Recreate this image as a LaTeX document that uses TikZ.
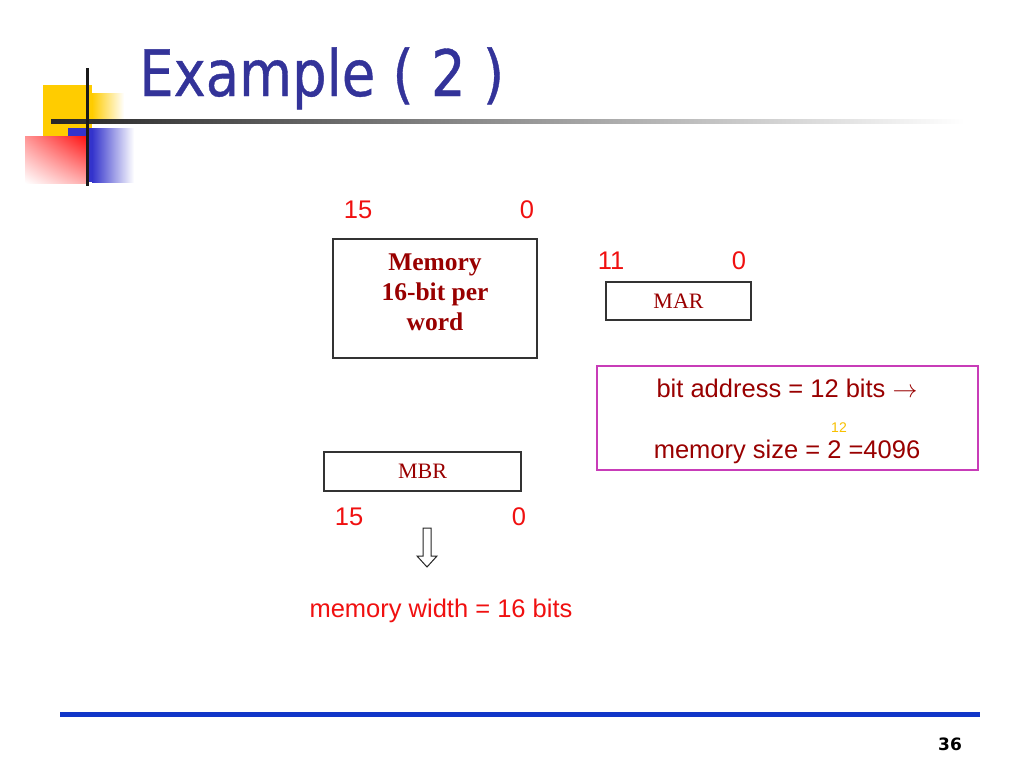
\documentclass[tikz,border=0pt]{standalone}
\usepackage{fontspec}
\usetikzlibrary{shadings}
\setmainfont{Liberation Serif}
\newfontfamily\arialf{Liberation Sans}
\newfontfamily\tnrf{Liberation Serif}
\newfontfamily\titlef[FakeStretch=0.85,FakeBold=0.6]{DejaVu Sans}
\newfontfamily\pagef{DejaVu Sans}
\definecolor{titleblue}{HTML}{333399}
\definecolor{numred}{HTML}{F01010}
\definecolor{dred}{HTML}{990000}
\definecolor{pinkb}{HTML}{C83CB8}
\definecolor{supyellow}{HTML}{F8C000}
\definecolor{lineblue}{HTML}{1136C8}
\definecolor{logoyellow}{HTML}{FFCC00}
\definecolor{logoblue}{HTML}{3333CC}
\definecolor{logored}{HTML}{FF1010}
\begin{document}
\begin{tikzpicture}[x=1pt,y=-1pt,
  num/.style={font=\arialf\fontsize{25.5}{30}\selectfont, text=numred, inner sep=0pt, anchor=base},
  dtext/.style={font=\arialf\fontsize{25.5}{30}\selectfont, text=dred, inner sep=0pt, anchor=base},
  regbox/.style={draw=black!80, line width=1.2pt, inner sep=0pt, font=\tnrf\fontsize{22}{26}\selectfont, text=dred}]
\useasboundingbox[fill=white] (0,0) rectangle (1024,768);
% logo
\fill[logoyellow] (43,85) rectangle (92,137);
\shade[left color=logoyellow, right color=white] (92,93) rectangle (124,121);
\fill[logoblue] (68,128) rectangle (92,182);
\shade[left color=logoblue, right color=white] (92,128) rectangle (134,182);
\shade[upper right=logored, upper left=logored!45, lower right=logored!35, lower left=white] (25,136) rectangle (87,183);
\shade[left color=black!85, right color=white] (51,119) rectangle (965,123);
\fill[black!90] (85.5,68) rectangle (88.5,186);
% title
\node[font=\titlef\fontsize{64}{76}\selectfont, text=titleblue, anchor=base west, inner sep=0pt] (title) at (139,96) {Example ( 2 )};
% memory
\node[num] (m15) at (358,218) {15};
\node[num] (m0) at (527,218) {0};
\node[regbox, minimum width=204pt, minimum height=119pt] (mem) at (435,298.5) {};
\node[font=\tnrf\bfseries\fontsize{25.5}{30}\selectfont, text=dred, align=center, inner sep=0pt] (memtxt) at (435,292) {Memory\\16-bit per\\word};
% MAR
\node[num] (a11) at (611,269) {11};
\node[num] (a0) at (739,269) {0};
\node[regbox, minimum width=145pt, minimum height=38pt] (mar) at (678.5,301) {MAR};
% address box
\node[draw=pinkb, line width=1.2pt, minimum width=381pt, minimum height=104pt, inner sep=0pt] (addr) at (787.5,418) {};
\node[dtext] (bitaddr) at (787,397) {bit address = 12 bits $\rightarrow$};
\node[font=\arialf\fontsize{14}{16}\selectfont, text=supyellow, inner sep=0pt, anchor=base] (exp) at (839,432) {12};
\node[dtext] (memsize) at (787,458) {memory size = 2 =4096};
% MBR
\node[regbox, minimum width=197pt, minimum height=39pt] (mbr) at (422.5,471.5) {MBR};
\node[num] (b15) at (349,525) {15};
\node[num] (b0) at (519,525) {0};
% hollow arrow
\draw[line width=1pt, black!85] (423,528) -- (431,528) -- (431,556) -- (437,556) -- (427,567) -- (417,556) -- (423,556) -- cycle;
\node[num] (width) at (441,617) {memory width = 16 bits};
% footer
\fill[lineblue] (60,712) rectangle (980,716.5);
\node[font=\pagef\bfseries\fontsize{17}{20}\selectfont, anchor=base, inner sep=0pt] (page) at (950,750) {36};
\end{tikzpicture}
\end{document}
